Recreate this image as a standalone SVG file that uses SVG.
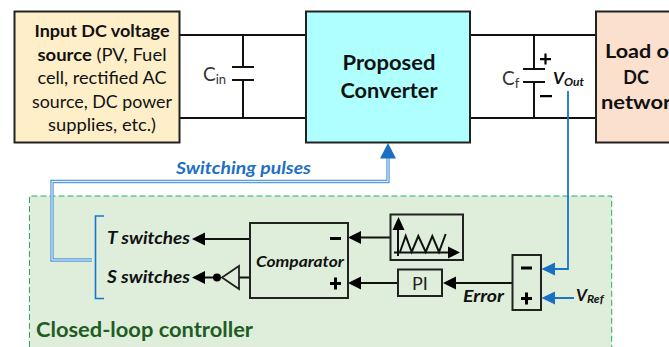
<svg xmlns="http://www.w3.org/2000/svg" width="669" height="347" viewBox="0 0 669 347">
<style>
text{font-family:Lato,Carlito,"Open Sans",sans-serif;fill:#111}
.w{fill:none;stroke:#111;stroke-width:2}
.b{stroke:#222;stroke-width:2}
.t{stroke:#222;stroke-width:1.8;fill:none}
.k{fill:#000;stroke:none}
.u{fill:#1a6fc4;stroke:none}
.bl{fill:none;stroke:#1a75c8;stroke-width:1.6}
.lb{font-size:17px}
.bi{font-weight:700;font-style:italic}
</style>
<rect x="0" y="0" width="669" height="347" fill="#fff"/>
<g id="controller">
<path d="M29.5 347V196H611.7V347" fill="#deeeda"/>
<path d="M29.5 347V196H611.7V347" fill="none" stroke="#22b060" stroke-width="1" stroke-dasharray="6 3"/>
<text x="36" y="337" style="font-size:20px;font-weight:700;fill:#1f5c24" textLength="217" lengthAdjust="spacingAndGlyphs">Closed-loop controller</text>
</g>
<g id="connectors">
<path class="w" d="M179 35H306M179 118H306M470 35H596M470 118H596"/>
<path class="w" d="M243 35V67M243 80V118M534 35V69M534 82V118"/>
<path class="w" d="M232 67H254M232 80H254M523 69H545M523 82H545"/>
<path class="w" d="M205 239H250M205 277.5H217M239 277.5H250M361 237.5H390M361 283H398M456 283H512"/>
<path d="M52 196V181.5H388V158M52 196V260H92" fill="none" stroke="#5b9bdc" stroke-width="3.4"/>
<path d="M52 196V181.5H388V158M52 196V260H92" fill="none" stroke="#e8f2fb" stroke-width="1"/>
<path class="bl" d="M104 216H95.500V298.500H104"/>
<path d="M568 91V269H553M574 298H553" fill="none" stroke="#1a75c8" stroke-width="1.8"/>
<path class="u" d="M388 143L396 158.500H380Z"/>
<path class="u" d="M541.500 269L555 262.500V275.500Z"/>
<path class="u" d="M541.500 298L555 291.500V304.500Z"/>
<path class="k" d="M192 239L205 232.500V245.500Z"/>
<path class="k" d="M192 277.500L205 271V284Z"/>
<path class="k" d="M348 237.500L361 231V244Z"/>
<path class="k" d="M348 283L361 276.500V289.500Z"/>
<path class="k" d="M443 283L456 276.500V289.500Z"/>
</g>
<g id="source">
<rect class="b" x="14.500" y="11.500" width="165" height="131" fill="#ffefc9"/>
<text class="lb" text-anchor="middle" x="102" y="37" font-weight="700" textLength="135" lengthAdjust="spacingAndGlyphs">Input DC voltage</text>
<text class="lb" text-anchor="middle" x="102" y="61" textLength="129" lengthAdjust="spacingAndGlyphs"><tspan font-weight="700">source</tspan> (PV, Fuel</text>
<text class="lb" text-anchor="middle" x="102" y="84" textLength="129" lengthAdjust="spacingAndGlyphs">cell, rectified AC</text>
<text class="lb" text-anchor="middle" x="102" y="108" textLength="140" lengthAdjust="spacingAndGlyphs">source, DC power</text>
<text class="lb" text-anchor="middle" x="102" y="131" textLength="108" lengthAdjust="spacingAndGlyphs">supplies, etc.)</text>
</g>
<g id="cin"><text x="203" y="81" style="font-size:19px;fill:#333">C<tspan font-size="13" dy="3">in</tspan></text></g>
<g id="converter">
<rect class="b" x="306" y="11.500" width="164" height="131" fill="#afffff"/>
<text text-anchor="middle" x="389" y="70" style="font-size:21px;font-weight:700" textLength="93" lengthAdjust="spacingAndGlyphs">Proposed</text>
<text text-anchor="middle" x="389" y="98" style="font-size:21px;font-weight:700" textLength="97" lengthAdjust="spacingAndGlyphs">Converter</text>
</g>
<g id="cf">
<text x="502" y="85" style="font-size:19px;fill:#333">C<tspan font-size="13" dy="3">f</tspan></text>
<path class="k" d="M540 58H551V60.200H540ZM544.400 53.500H546.600V64.500H544.400ZM540 95H552V97.200H540Z"/>
<text x="553" y="84" class="bi" style="font-size:17px">V<tspan font-size="12" dy="2">Out</tspan></text>
</g>
<g id="load">
<rect class="b" x="596" y="11.500" width="80" height="131" fill="#fbe0ce"/>
<text text-anchor="middle" x="641" y="58" style="font-size:18px;font-weight:700" textLength="72" lengthAdjust="spacingAndGlyphs">Load or</text>
<text text-anchor="middle" x="636" y="84" style="font-size:18px;font-weight:700">DC</text>
<text text-anchor="middle" x="642" y="109" style="font-size:18px;font-weight:700" textLength="82" lengthAdjust="spacingAndGlyphs">network</text>
</g>
<text x="176" y="174" class="bi" style="font-size:17px;fill:#1f6fc4" textLength="135" lengthAdjust="spacingAndGlyphs">Switching pulses</text>
<g id="switches">
<text x="107" y="244" class="bi" style="font-size:16.500px" textLength="83" lengthAdjust="spacingAndGlyphs">T switches</text>
<text x="107" y="283" class="bi" style="font-size:16.500px" textLength="83" lengthAdjust="spacingAndGlyphs">S switches</text>
</g>
<g id="inverter">
<path class="t" d="M239 266V289L222 277.500Z"/>
<circle cx="217" cy="277.500" r="4" fill="#000"/>
</g>
<g id="comparator">
<rect class="b" x="250" y="223" width="98" height="75" fill="none"/>
<text x="256" y="267" class="bi" style="font-size:14.500px" textLength="88" lengthAdjust="spacingAndGlyphs">Comparator</text>
<path class="k" d="M330 237H341V240H330ZM330 282H341V285H330ZM334 277.500H337V289.500H334Z"/>
</g>
<g id="carrier">
<rect class="b" x="390.500" y="214.500" width="72.500" height="45.500" fill="none"/>
<path class="w" d="M398 230V256M394 252.500H449"/>
<path class="w" d="M400 252L405.700 236L411.700 252L418.300 236L425.700 252L432.300 236L439 252L445.700 234"/>
<path class="k" d="M398.500 217L404.500 230H392.500Z"/>
<path class="k" d="M460 252.500L448 246.500V258.500Z"/>
</g>
<g id="pi">
<rect class="b" x="398" y="269.500" width="44" height="26.500" fill="none"/>
<text x="420" y="290" text-anchor="middle" style="font-size:18px;fill:#222">PI</text>
</g>
<g id="sum">
<rect class="b" x="512.500" y="255" width="28.500" height="55" fill="none"/>
<path class="k" d="M521 266.500H532V269.500H521ZM521 297H532V300H521ZM525 292.500H528V304.500H525Z"/>
</g>
<text x="463" y="302" class="bi" style="font-size:17px" textLength="41" lengthAdjust="spacingAndGlyphs">Error</text>
<text x="576" y="301" class="bi" style="font-size:17px">V<tspan font-size="12" dy="2">Ref</tspan></text>
</svg>
